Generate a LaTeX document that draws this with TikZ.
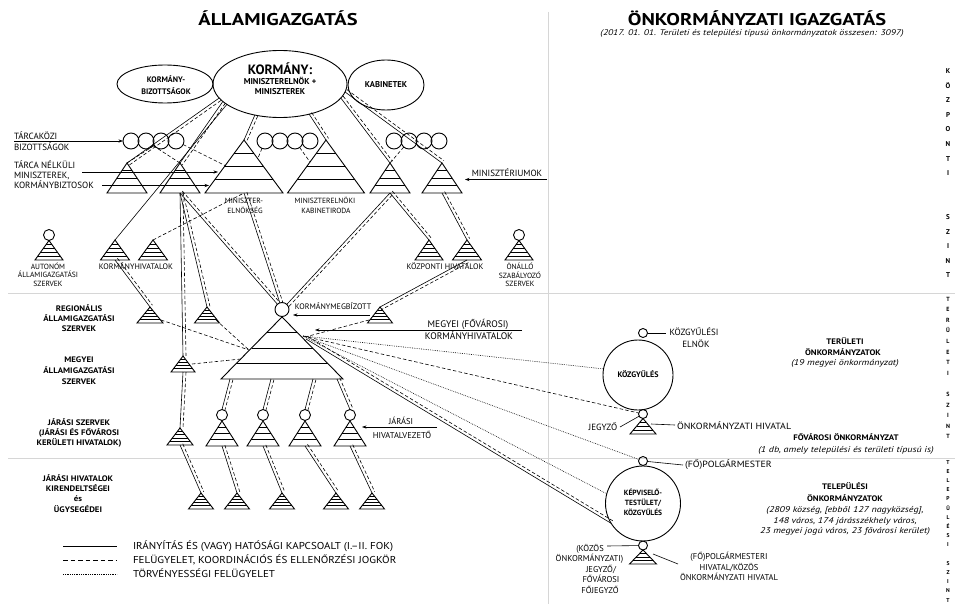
\documentclass[tikz,border=0pt]{standalone}
\usepackage{fontspec}
\setmainfont{PT Sans}
\newfontfamily\wideA[FakeStretch=1.2]{PT Sans}
\newfontfamily\wideB[FakeStretch=1.1]{PT Sans}
\usetikzlibrary{calc,arrows.meta,shapes.geometric}
\tikzset{
  every node/.style={inner sep=0pt,outer sep=0pt},
  conn/.style={line width=0.6pt},
  dsh/.style={line width=0.6pt,dash pattern=on 3.5pt off 2.2pt},
  dtt/.style={line width=0.6pt,dash pattern=on 0.7pt off 1.1pt},
  tri/.style={line width=0.9pt,line join=miter},
  stripe/.style={line width=0.8pt},
  arr/.style={line width=0.6pt,-{Stealth[length=4.5pt,width=3.2pt]}},
  bgline/.style={line width=1pt,black!16},
  ring/.style={circle,draw,line width=0.9pt},
  oval/.style={ellipse,draw,line width=0.9pt},
  tx/.style={anchor=base},
  txl/.style={anchor=base west},
  ttl/.style={font=\wideA\fontsize{17}{20}\selectfont\bfseries},
  sub/.style={font=\wideA\fontsize{8.2}{9}\selectfont\itshape},
  r75/.style={font=\fontsize{7.5}{9}\selectfont},
  r8/.style={font=\fontsize{8}{9}\selectfont},
  r85/.style={font=\fontsize{8.5}{10}\selectfont},
  r9/.style={font=\fontsize{9}{10}\selectfont},
  r95/.style={font=\fontsize{9.5}{11}\selectfont},
  rR/.style={font=\wideB\fontsize{9}{10}\selectfont},
  lgd/.style={font=\wideB\fontsize{10}{12}\selectfont},
  b75/.style={font=\fontsize{7.5}{9}\selectfont\bfseries},
  bL/.style={font=\wideB\fontsize{8}{9}\selectfont\bfseries},
  bR/.style={font=\wideB\fontsize{8}{9}\selectfont\bfseries},
  b8/.style={font=\fontsize{8}{9}\selectfont\bfseries},
  b85/.style={font=\fontsize{8.5}{10}\selectfont\bfseries},
  b135/.style={font=\fontsize{13.5}{15}\selectfont\bfseries},
  i85/.style={font=\wideA\fontsize{8.4}{10}\selectfont\itshape},
  vA/.style={anchor=base,font=\fontsize{7}{8}\selectfont\bfseries},
  vB/.style={anchor=base,font=\fontsize{6}{7}\selectfont\bfseries},
  vC/.style={anchor=base,font=\fontsize{5.6}{7}\selectfont\bfseries},
}
% name, apex x, apex y, half width, height, number of stripes
\newcommand\mkTri[6]{%
  \coordinate (#1) at (#2,#3);
  \coordinate (#1b) at ({#2},{#3+#5});
  \draw[tri] (#2,#3) -- ({#2-#4},{#3+#5}) -- ({#2+#4},{#3+#5}) -- cycle;
  \foreach \k in {1,...,#6}{%
    \draw[stripe] ({#2-#4*\k/(#6+1)},{#3+#5*\k/(#6+1)}) -- ({#2+#4*\k/(#6+1)},{#3+#5*\k/(#6+1)});
  }%
}
\newcommand\dualline[2]{%
  \draw[conn] (#1) -- (#2);
  \draw[dsh] ($(#1)!3pt!90:(#2)$) -- ($(#2)!3pt!-90:(#1)$);
}
\begin{document}
\begin{tikzpicture}[x=1pt,y=-1pt]
\useasboundingbox (0,0) rectangle (955,604);
\fill[white] (0,0) rectangle (955,604);
% background dividers
\coordinate (vt) at (548,12); \coordinate (vb) at (548,604);
\coordinate (h1a) at (8,293); \coordinate (h1b) at (955,293);
\coordinate (h2a) at (8,458); \coordinate (h2b) at (955,458);
\draw[bgline] (vt) -- (vb);
\draw[bgline] (h1a) -- (h1b);
\draw[bgline] (h2a) -- (h2b);

% ---------- shapes: ellipses and circles ----------
\node[oval,minimum width=134pt,minimum height=67pt] (korm) at (280,84) {};
\node[oval,minimum width=96pt,minimum height=38pt] (kbiz) at (165,84) {};
\node[oval,minimum width=76pt,minimum height=50pt] (kabin) at (386,85) {};
\foreach \n/\x in {cL1/131,cL2/146,cL3/161,cL4/176,cM1/265,cM2/280,cM3/295,cM4/310,cR1/394,cR2/409,cR3/424,cR4/439}
  \node[ring,minimum size=16pt] (\n) at (\x,141) {};
\node[ring,minimum size=11pt] (aut) at (49,235) {};
\node[ring,minimum size=11pt] (ona) at (519,235) {};
\node[ring,minimum size=14pt] (kmb) at (282,309.5) {};
\foreach \n/\x in {jc1/222,jc2/263,jc3/305,jc4/350}
  \node[ring,minimum size=11pt] (\n) at (\x,415) {};
\node[ring,minimum size=70pt] (kozgy) at (638,375) {};
\node[ring,minimum size=9pt] (elnk) at (643,333) {};
\node[ring,minimum size=9pt] (jeg1) at (643,414) {};
\node[ring,minimum size=75pt] (kepv) at (643,503.5) {};
\node[ring,minimum size=9pt] (polg) at (643,461) {};
\node[ring,minimum size=9pt] (jeg2) at (643,545.5) {};

% ---------- triangles ----------
\mkTri{tri1}{127}{163}{20}{30}{3}
\mkTri{tri2}{180}{163}{20}{30}{3}
\mkTri{me}{244}{140}{39}{53}{3}
\mkTri{kab}{326}{140}{38.5}{53}{3}
\mkTri{tri5}{390}{163}{20}{30}{3}
\mkTri{tri6}{442}{163}{20}{30}{3}
\mkTri{autT}{49}{240.5}{14}{19.5}{4}
\mkTri{triA}{115}{240}{14.5}{20}{4}
\mkTri{triB}{153}{240}{14.5}{20}{4}
\mkTri{triC}{429}{240}{14}{20}{4}
\mkTri{triD}{467}{240}{14.5}{20}{4}
\mkTri{onaT}{519}{240.5}{14}{19.5}{4}
\mkTri{triE}{150}{307}{13}{16}{4}
\mkTri{triF}{207}{307}{12.5}{16}{4}
\mkTri{triG}{380}{307}{12.5}{16}{4}
\mkTri{cnty}{282}{317}{61}{62}{3}
\mkTri{triH}{183}{356}{12}{16}{4}
\mkTri{triI}{180}{428}{13}{17}{4}
\mkTri{trJ}{222}{421}{16}{25}{3}
\mkTri{trK}{263}{421}{16}{25}{3}
\mkTri{trL}{305}{421}{16}{25}{3}
\mkTri{trM}{350}{421}{16}{25}{3}
\mkTri{bt1}{201}{493}{12.5}{16}{4}
\mkTri{bt2}{237}{493}{12.5}{16}{4}
\mkTri{bt3}{282}{493}{12.5}{16}{4}
\mkTri{bt4}{336}{493}{12.5}{16}{4}
\mkTri{bt5}{372}{493}{12.5}{16}{4}
\mkTri{ohT}{643}{418.5}{13}{15.5}{3}
\mkTri{phT}{643}{550}{13.5}{14}{3}

% ---------- helper coordinates ----------
\coordinate (meL) at (226,166);
\coordinate (meR) at (258,158);
\coordinate (kabL) at (310,162);
\coordinate (eR) at (161,320);
\coordinate (fR) at (216,320);
\coordinate (hR) at (192,364);
\coordinate (gL) at (369,320);
\coordinate (ctL1) at (249,350);
\coordinate (ctL2) at (241,359);
\coordinate (ctR) at (305,337);
\coordinate (cb1) at (230,379);
\coordinate (cb2) at (271,379);
\coordinate (cb3) at (313,379);
\coordinate (cb4) at (337,379);
\coordinate (R0) at (303,336);
\coordinate (R1) at (306,339);

% ---------- connectors from the government ----------
\dualline{korm.193}{tri1}
\dualline{korm.197}{tri2}
\draw[conn] (korm.201) -- (triA);
\dualline{korm.231}{me}
\dualline{korm.314}{kab}
\dualline{korm.347}{tri5}
\dualline{korm.353}{tri6}
\draw[dsh] (tri1) -- (cL3);
\draw[dsh] (tri2) -- (cL2);
\draw[dsh] (cL4) -- (meL);
\draw[dsh] (cM1) -- (meR);
\draw[dsh] (cM3) -- (kabL);
\draw[dsh] (cR2) -- (tri5);
\draw[dsh] (triB) -- (meb);
\dualline{triAb}{triE}
\dualline{tri2b}{triH}
\dualline{tri2b}{triF}
\dualline{tri2b}{kmb.131}
\dualline{meb}{kmb.108}
\dualline{tri5b}{kmb.47}
\dualline{tri5b}{triC}
\dualline{tri6b}{triD}
\dualline{triDb}{triG}
\draw[dsh] (eR) -- (ctL1);
\draw[dsh] (fR) -- (ctL1);
\draw[dsh] (hR) -- (ctL2);
\draw[dsh] (gL) -- (ctR);
\dualline{triHb}{triI}
\dualline{cb1}{jc1.north}
\dualline{cb2}{jc2.north}
\dualline{cb3}{jc3.north}
\dualline{cb4}{jc4.north}
\dualline{triIb}{bt1}
\dualline{trJb}{bt2}
\dualline{trKb}{bt3}
\dualline{trLb}{bt4}
\dualline{trMb}{bt5}
% to the local governments
\draw[dtt] (R0) -- (kozgy.170);
\draw[dsh] (R0) -- (jeg1);
\draw[dtt] (R0) -- (polg);
\draw[dtt] (R0) -- (kepv.165);
\dualline{R1}{kepv.212}

% ---------- label arrows ----------
\coordinate (a1s) at (14,141);
\coordinate (a2s) at (82,172); \coordinate (a2e) at (218,172);
\coordinate (a3s) at (102,185.5); \coordinate (a3e) at (209,185.5);
\coordinate (a4s) at (547,179.5); \coordinate (a4e) at (465,179.5);
\coordinate (a5s) at (370,315); \coordinate (a5e) at (293,315);
\coordinate (a6s) at (522,330); \coordinate (a6e) at (315,330);
\coordinate (a7s) at (437,427); \coordinate (a7e) at (362,427);
\draw[arr] (a1s) -- (cL1);
\draw[arr] (a2s) -- (a2e);
\draw[arr] (a3s) -- (a3e);
\draw[arr] (a4s) -- (a4e);
\draw[arr] (a5s) -- (a5e);
\draw[arr] (a6s) -- (a6e);
\draw[arr] (a7s) -- (a7e);

% right-side label leaders
\coordinate (lk) at (666,333);
\coordinate (lj) at (620,427);
\coordinate (lh1) at (651,424); \coordinate (lh2) at (675,425);
\coordinate (lp) at (683,465);
\coordinate (lks) at (607,546);
\coordinate (lph1) at (653,554); \coordinate (lph2) at (678,564);
\draw[conn] (elnk) -- (lk);
\draw[conn] (lj) -- (jeg1);
\draw[conn] (lh1) -- (lh2);
\draw[conn] (polg) -- (lp);
\draw[conn] (lks) -- (jeg2);
\draw[conn] (lph1) -- (lph2);

% legend
\coordinate (lg1a) at (63,546); \coordinate (lg1b) at (117,546);
\coordinate (lg2a) at (63,560); \coordinate (lg2b) at (117,560);
\coordinate (lg3a) at (63,574); \coordinate (lg3b) at (117,574);
\draw[conn] (lg1a) -- (lg1b);
\draw[dsh,dash pattern=on 4.5pt off 3pt] (lg2a) -- (lg2b);
\draw[dtt] (lg3a) -- (lg3b);

% ---------- texts ----------
\node[tx,ttl] (t1) at (278,26) {ÁLLAMIGAZGATÁS};
\node[tx,ttl] (t2) at (757,26) {ÖNKORMÁNYZATI IGAZGATÁS};
\node[tx,sub] (t3) at (752,35.5) {(2017. 01. 01. Területi és települési típusú önkormányzatok összesen: 3097)};

\node[tx,b135] (k1) at (280,75) {KORMÁNY:};
\node[tx,b85] (k2) at (280,85) {MINISZTERELNÖK +};
\node[tx,b85] (k3) at (280,94.5) {MINISZTEREK};
\node[tx,b8] (kb1) at (166,83) {KORMÁNY-};
\node[tx,b8] (kb2) at (166,95) {BIZOTTSÁGOK};
\node[tx,b85] (kab1) at (386,87.5) {KABINETEK};

\node[txl,r9] (l1) at (14,139.5) {TÁRCAKÖZI};
\node[txl,r9] (l2) at (14,150.5) {BIZOTTSÁGOK};
\node[txl,r9] (l3) at (14,168.5) {TÁRCA NÉLKÜLI};
\node[txl,r9] (l4) at (14,178.5) {MINISZTEREK,};
\node[txl,r9] (l5) at (14,189) {KORMÁNYBIZTOSOK};
\node[tx,r9] (l6) at (507,176.5) {MINISZTÉRIUMOK};
\node[tx,r75] (l7) at (244,203.5) {MINISZTER-};
\node[tx,r75] (l8) at (245,214) {ELNÖKSÉG};
\node[tx,r75] (l9) at (325,203.5) {MINISZTERELNÖKI};
\node[tx,r75] (l10) at (326,214) {KABINETIRODA};
\node[tx,r8] (l11) at (136,269) {KORMÁNYHIVATALOK};
\node[tx,r8] (l12) at (445,269) {KÖZPONTI HIVATALOK};
\node[tx,r75] (l13) at (48,269) {AUTONÓM};
\node[tx,r75] (l14) at (48,277.5) {ÁLLAMIGAZGATÁSI};
\node[tx,r75] (l15) at (48,286) {SZERVEK};
\node[tx,r75] (l16) at (520,269.5) {ÖNÁLLÓ};
\node[tx,r75] (l17) at (520,278) {SZABÁLYOZÓ};
\node[tx,r75] (l18) at (520,286.5) {SZERVEK};

\node[tx,bL] (g1) at (79,311) {REGIONÁLIS};
\node[tx,bL] (g2) at (79,321) {ÁLLAMIGAZGATÁSI};
\node[tx,bL] (g3) at (79,331) {SZERVEK};
\node[tx,bL] (g4) at (79,362.5) {MEGYEI};
\node[tx,bL] (g5) at (79,373) {ÁLLAMIGAZGATÁSI};
\node[tx,bL] (g6) at (79,384) {SZERVEK};
\node[tx,bL] (g7) at (79,425) {JÁRÁSI SZERVEK};
\node[tx,bL] (g8) at (79,435) {(JÁRÁSI ÉS FŐVÁROSI};
\node[tx,bL] (g9) at (79,445) {KERÜLETI HIVATALOK)};
\node[tx,bL] (g10) at (78,481) {JÁRÁSI HIVATALOK};
\node[tx,bL] (g11) at (78,491) {KIRENDELTSÉGEI};
\node[tx,bL] (g12) at (78,501) {és};
\node[tx,bL] (g13) at (78,512) {ÜGYSEGÉDEI};

\node[tx,r8] (m1) at (333,309.5) {KORMÁNYMEGBÍZOTT};
\node[tx,r95] (m2) at (468,327) {MEGYEI (FŐVÁROSI)};
\node[tx,r95] (m3) at (469,339) {KORMÁNYHIVATALOK};
\node[tx,r85] (m4) at (401,424.5) {JÁRÁSI};
\node[tx,r85] (m5) at (402,438.5) {HIVATALVEZETŐ};

\node[txl,lgd] (lgt1) at (133,549.5) {IRÁNYÍTÁS ÉS (VAGY) HATÓSÁGI KAPCSOALT (I.–II. FOK)};
\node[txl,lgd] (lgt2) at (133,563.5) {FELÜGYELET, KOORDINÁCIÓS ÉS ELLENŐRZÉSI JOGKÖR};
\node[txl,lgd] (lgt3) at (133,577.5) {TÖRVÉNYESSÉGI FELÜGYELET};

\node[tx,r9] (n1) at (694,335) {KÖZGYŰLÉSI};
\node[tx,r9] (n2) at (696,347) {ELNÖK};
\node[tx,b8] (n3) at (638,377.5) {KÖZGYŰLÉS};
\node[tx,r9] (n4) at (603,430) {JEGYZŐ};
\node[txl,rR] (n5) at (677,429) {ÖNKORMÁNYZATI HIVATAL};
\node[tx,bR] (n6) at (845,344) {TERÜLETI};
\node[tx,bR] (n7) at (843,355) {ÖNKORMÁNYZATOK};
\node[tx,i85] (n8) at (845,365.5) {(19 megyei önkormányzat)};
\node[tx,bR] (n9) at (846,440) {FŐVÁROSI ÖNKORMÁNYZAT};
\node[tx,i85] (n10) at (846,452) {(1 db, amely települési és területi típusú is)};
\node[txl,rR] (n11) at (685,467.5) {(FŐ)POLGÁRMESTER};
\node[tx,b75] (n12) at (643,495) {KÉPVISELŐ-};
\node[tx,b75] (n13) at (643,505.5) {TESTÜLET/};
\node[tx,b75] (n14) at (643,515.5) {KÖZGYŰLÉS};
\node[tx,bR] (n15) at (845,489.5) {TELEPÜLÉSI};
\node[tx,bR] (n16) at (845,501) {ÖNKORMÁNYZATOK};
\node[tx,i85] (n17) at (845,512.5) {(2809 község, [ebből 127 nagyközség],};
\node[tx,i85] (n18) at (845,523) {148 város, 174 járásszékhely város,};
\node[tx,i85] (n19) at (845,533.5) {23 megyei jogú város, 23 fővárosi kerület)};
\node[tx,r85] (n20) at (590,551) {(KÖZÖS};
\node[tx,r85] (n21) at (589.5,561.5) {ÖNKORMÁNYZATI)};
\node[tx,r85] (n22) at (601,572) {JEGYZŐ/};
\node[tx,r85] (n23) at (601,582.5) {FŐVÁROSI};
\node[tx,r85] (n24) at (600,593) {FŐJEGYZŐ};
\node[tx,r85] (n25) at (729,559.5) {(FŐ)POLGÁRMESTERI};
\node[tx,r85] (n26) at (729,570) {HIVATAL/KÖZÖS};
\node[tx,r85] (n27) at (729,580.5) {ÖNKORMÁNYZATI HIVATAL};

% vertical level labels
\foreach \i/\l in {0/K,1/Ö,2/Z,3/P,4/O,5/N,6/T,7/I,10/S,11/Z,12/I,13/N,14/T}
  \node[vA] (va\i) at (948,{73.5+14.6*\i}) {\l};
\foreach \i/\l in {0/T,1/E,2/R,3/Ü,4/L,5/E,6/T,7/I,9/S,10/Z,11/I,12/N,13/T}
  \node[vB] (vb\i) at (948,{301+10.6*\i}) {\l};
\foreach \i/\l in {0/T,1/E,2/L,3/E,4/P,5/Ü,6/L,7/É,8/S,9/I,11/S,12/Z,13/I,14/N,15/T}
  \node[vC] (vc\i) at (948,{464+9.2*\i}) {\l};
\end{tikzpicture}
\end{document}
